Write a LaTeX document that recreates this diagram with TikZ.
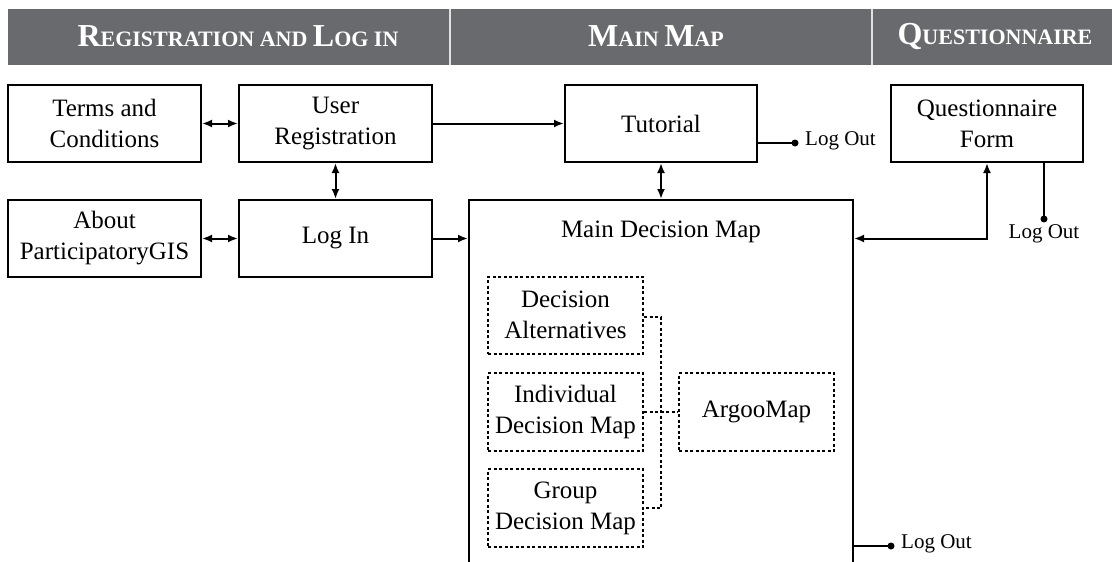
\documentclass[tikz,border=0pt]{standalone}
\usepackage{fontspec}
\setmainfont{Liberation Serif}
\usetikzlibrary{arrows.meta}
\definecolor{hdr}{RGB}{105,106,110}
\newcommand\capbig[1]{{\fontsize{32}{32}\selectfont #1}}
\tikzset{
  box/.style={draw, line width=2pt, minimum width=193pt, minimum height=77pt, inner sep=0pt, align=center, font=\fontsize{25}{31}\selectfont},
  dbox/.style={draw, line width=2pt, dash pattern=on 3pt off 2.5pt, minimum width=155pt, minimum height=77pt, inner sep=0pt, align=center, font=\fontsize{25}{31}\selectfont},
  conn/.style={line width=2pt},
  tip/.style={line width=2pt, -{Latex[length=10pt,width=8pt]}},
  dtip/.style={line width=2pt, {Latex[length=10pt,width=8pt]}-{Latex[length=10pt,width=8pt]}},
  dconn/.style={line width=2pt, dash pattern=on 3pt off 2.5pt},
  lo/.style={font=\fontsize{21}{24}\selectfont, inner sep=0pt},
  hdrtxt/.style={text=white, font=\bfseries\fontsize{22}{22}\selectfont, inner sep=0pt},
  dot/.style={circle, fill, inner sep=0pt, minimum size=7pt}
}
\begin{document}
\begin{tikzpicture}[x=1pt, y=-1pt]
\useasboundingbox (0,0) rectangle (1112,562);
\clip (0,0) rectangle (1112,562);
% header
\fill[hdr] (8,9) rectangle (1112,65);
\draw[white!80!hdr, line width=1.5pt] (450,9) -- (450,65);
\draw[white!80!hdr, line width=1.5pt] (872,9) -- (872,65);
\node[hdrtxt] (h1) at (238,36) {\capbig{R}EGISTRATION AND \capbig{L}OG IN};
\node[hdrtxt] (h2) at (656,36) {\capbig{M}AIN \capbig{M}AP};
\node[hdrtxt] (h3) at (995,36) {\capbig{Q}UESTIONNAIRE};
% boxes
\node[box] (terms) at (104.5,123.5) {Terms and\\Conditions};
\node[box] (userreg) at (335.5,123.5) {User\\Registration};
\node[box] (about) at (104.5,238.5) {About\\ParticipatoryGIS};
\node[box] (login) at (335.5,238.5) {Log In};
\node[box, minimum width=192pt] (tutorial) at (661,123.5) {Tutorial};
\node[box, minimum width=192pt] (qform) at (987,123.5) {Questionnaire\\Form};
\node[box, minimum width=384pt, minimum height=420pt] (main) at (661,410) {};
\node[font=\fontsize{25}{31}\selectfont, inner sep=0pt] (mainlbl) at (661,232) {Main Decision Map};
% dashed sub-boxes
\node[dbox] (da) at (565.5,315) {Decision\\Alternatives};
\node[dbox, minimum height=78pt] (idm) at (565.5,412) {Individual\\Decision Map};
\node[dbox, minimum height=78pt] (gdm) at (565.5,508) {Group\\Decision Map};
\node[dbox, minimum height=78pt] (argoo) at (756.5,412) {ArgooMap};
\coordinate (bus) at (661,317);
\draw[dconn] (da.east |- bus) -- (bus) -- (bus |- gdm.east) -- (gdm.east);
\draw[dconn] (idm.east) -- (argoo.west);
% connectors
\draw[dtip] (terms.east) -- (userreg.west);
\draw[dtip] (about.east) -- (login.west);
\draw[dtip] (userreg.south) -- (login.north);
\draw[tip] (userreg.east) -- (tutorial.west);
\draw[tip] (login.east) -- (login.east -| main.west);
\draw[dtip] (tutorial.south) -- (tutorial.south |- main.north);
\draw[dtip] (qform.south) |- (login.east -| main.east);
% log outs
\coordinate (lo1) at (795,143);
\draw[conn] (tutorial.east |- lo1) -- (lo1);
\node[dot] (d1) at (lo1) {};
\node[lo, anchor=west] (lo1t) at (805,141) {Log Out};
\coordinate (lo2) at (1044,219);
\draw[conn] (qform.south -| lo2) -- (lo2);
\node[dot] (d2) at (lo2) {};
\node[lo] (lo2t) at (1044,234) {Log Out};
\coordinate (lo3) at (891,546);
\draw[conn] (main.east |- lo3) -- (lo3);
\node[dot] (d3) at (lo3) {};
\node[lo, anchor=west] (lo3t) at (901,544) {Log Out};
\end{tikzpicture}
\end{document}
